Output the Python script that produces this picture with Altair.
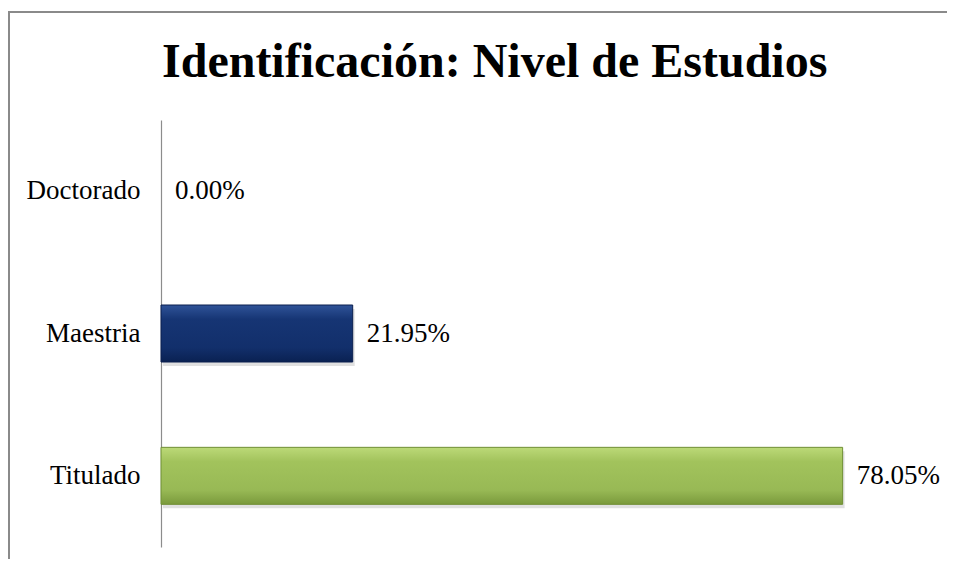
import altair as alt
import pandas as pd

title_text = "Identificación: Nivel de Estudios"
categories = ["Doctorado", "Maestria", "Titulado"]
values = [0.00, 21.95, 78.05]

df = pd.DataFrame({"cat": categories, "val": values})

W, H = 786, 427
serif = "Liberation Serif"

y = alt.Y("cat:N", sort=categories, title=None,
          scale=alt.Scale(paddingInner=0.6, paddingOuter=0.3),
          axis=alt.Axis(labelFont=serif, labelFontSize=27, labelColor="#000000",
                        ticks=False, labelPadding=21, domainColor="#8c8c8c",
                        domainWidth=1.2, grid=False))
x = alt.X("val:Q", title=None, scale=alt.Scale(domain=[0, 90]), axis=None)

base = alt.Chart(df)
one = pd.DataFrame({"t": [title_text]})

frame_top = alt.Chart(one).mark_rule(stroke="#8a8a8a", strokeWidth=2).encode(
    x=alt.value(-152), x2=alt.value(820), y=alt.value(-108))
frame_left = alt.Chart(one).mark_rule(stroke="#8a8a8a", strokeWidth=2).encode(
    x=alt.value(-152), y=alt.value(-109), y2=alt.value(460))

title = alt.Chart(one).mark_text(
    font=serif, fontSize=48, fontWeight="bold", color="#000000",
    align="left", baseline="alphabetic"
).encode(x=alt.value(1), y=alt.value(-43), text="t:N")

green = alt.Gradient(gradient="linear", x1=0, x2=0, y1=0, y2=1, stops=[
    alt.GradientStop(color="#bcd978", offset=0),
    alt.GradientStop(color="#a2c35c", offset=0.25),
    alt.GradientStop(color="#98b955", offset=0.75),
    alt.GradientStop(color="#7a9a3c", offset=1)])
blue = alt.Gradient(gradient="linear", x1=0, x2=0, y1=0, y2=1, stops=[
    alt.GradientStop(color="#2f5398", offset=0),
    alt.GradientStop(color="#163574", offset=0.25),
    alt.GradientStop(color="#122f6b", offset=0.75),
    alt.GradientStop(color="#0a2152", offset=1)])

pos = base.transform_filter("datum.val > 0")

shadow = pos.mark_bar(size=57, color="#000000", opacity=0.12, yOffset=4, xOffset=2).encode(y=y, x=x)

bar_blue = pos.transform_filter(alt.datum.cat == "Maestria").mark_bar(
    size=57, color=blue, stroke="#0a1f4e", strokeWidth=1).encode(y=y, x=x)
bar_green = pos.transform_filter(alt.datum.cat == "Titulado").mark_bar(
    size=57, color=green, stroke="#6f8f34", strokeWidth=1).encode(y=y, x=x)

labels = base.transform_calculate(
    lab="format(datum.val, '.2f') + '%'"
).mark_text(align="left", baseline="middle", dx=14, font=serif, fontSize=27,
            color="#000000").encode(y=y, x=x, text="lab:N")

chart = alt.layer(frame_top, frame_left, title, shadow, bar_blue, bar_green, labels).properties(
    width=W, height=H,
    autosize=alt.AutoSizeParams(type="none"),
    padding={"left": 153, "top": 112, "right": 0, "bottom": 12},
).configure_view(stroke=None)

chart.save("out.html", embed_options={"renderer": "svg", "actions": False})
